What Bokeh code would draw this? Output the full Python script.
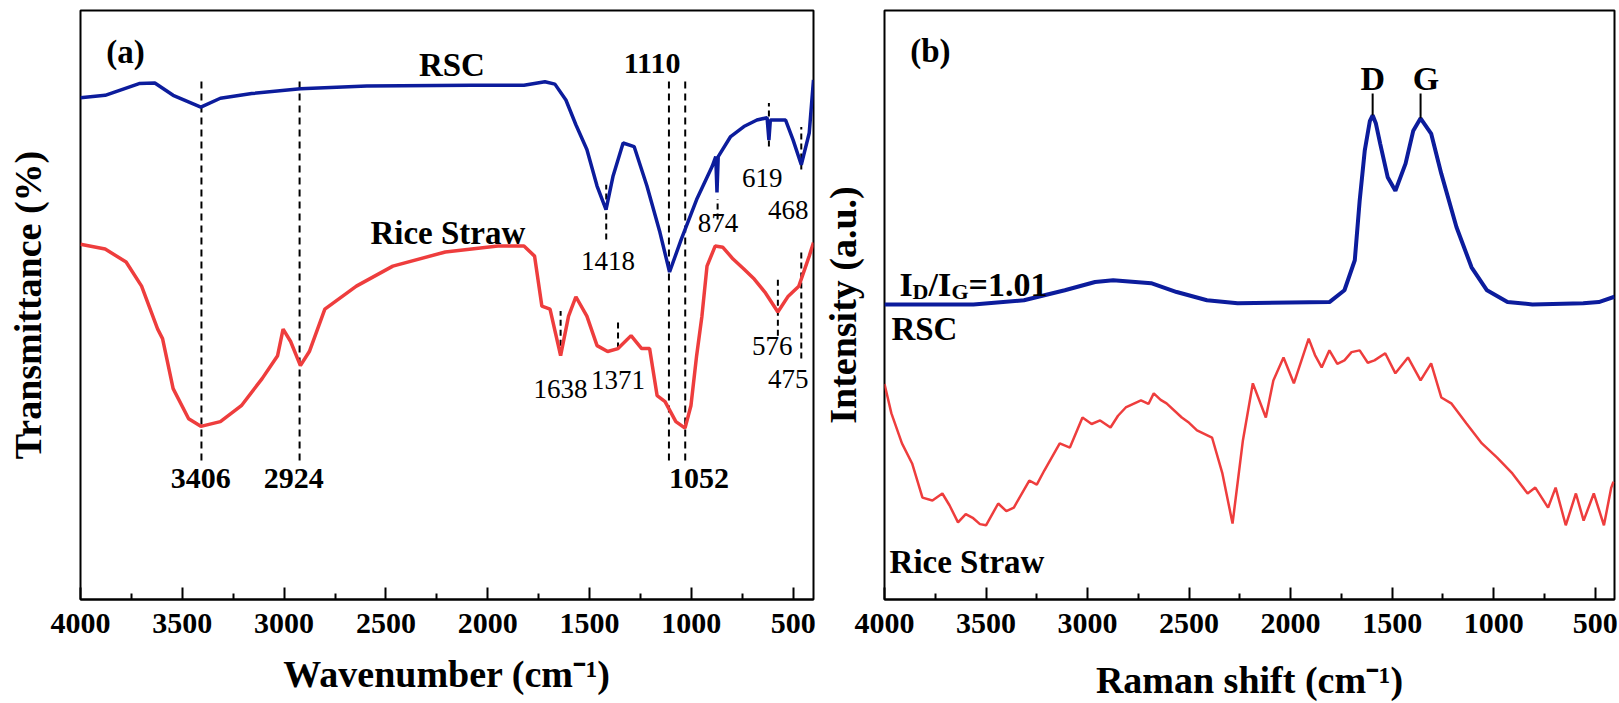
from bokeh.plotting import figure
from bokeh.layouts import row
from bokeh.models import Range1d, FixedTicker, ColumnDataSource
from bokeh.embed import file_html
from bokeh.resources import INLINE
from bokeh.core.properties import value

FONT = "Liberation Serif"
BLUE = "#0c1c9c"
RED = "#ee3d3d"

# ---------------- data: (a) FTIR ----------------
ftir_wn_rsc = [4000, 3879, 3712, 3635, 3545, 3409, 3313, 3159, 2920, 2594, 2079, 1822, 1719, 1670,
               1616, 1567, 1513, 1463, 1419, 1385, 1335, 1281, 1218, 1154, 1107, 1050, 974, 898,
               880, 874, 868, 807, 742, 678, 628, 619, 612, 603, 537, 500, 460, 421, 400]
ftir_t_rsc = [85.2, 85.6, 87.6, 87.7, 85.6, 83.6, 85.1, 85.9, 86.7, 87.2, 87.3, 87.3, 87.9, 87.5,
              84.8, 80.6, 76.4, 70.2, 66.2, 71.8, 77.5, 76.9, 70.2, 62.3, 55.6, 61.1, 67.9, 73.5,
              75.2, 69.1, 75.2, 78.6, 80.3, 81.4, 81.8, 78.0, 81.4, 81.4, 81.4, 78.0, 73.8, 79.2, 88.2]

ftir_wn_rs = [4000, 3879, 3776, 3700, 3621, 3597, 3545, 3469, 3409, 3313, 3210, 3108, 3032, 3005,
              2968, 2920, 2876, 2800, 2645, 2466, 2208, 1950, 1822, 1770, 1734, 1694, 1642, 1603,
              1567, 1513, 1463, 1411, 1360, 1296, 1244, 1205, 1168, 1129, 1076, 1031, 1002, 974,
              948, 923, 883, 845, 795, 742, 691, 639, 575, 524, 472, 421, 400]
ftir_t_rs = [60.3, 59.5, 57.3, 53.2, 45.9, 44.3, 35.8, 30.7, 29.4, 30.2, 32.9, 37.5, 41.4, 45.9,
             43.8, 39.7, 42.1, 49.3, 53.2, 56.6, 59.0, 60.0, 60.0, 58.3, 49.8, 49.3, 41.4, 48.1,
             51.4, 48.1, 43.1, 42.1, 42.6, 44.8, 42.6, 42.6, 34.6, 33.6, 30.2, 29.1, 32.9, 41.4,
             48.1, 56.6, 60.0, 59.8, 57.8, 56.1, 54.4, 52.2, 48.8, 51.5, 53.2, 58.3, 60.6]

# peak marker lines (a)
long_line_x = [3406, 2924, 1110, 1030]
long_line_y0 = [23.6, 23.6, 23.6, 23.6]
long_line_y1 = [88.5, 88.5, 88.5, 88.5]
short_line_x = [1418, 871, 619, 460, 1642, 1360, 575, 460]
short_line_y0 = [61.1, 64.5, 76.9, 73.0, 41.4, 42.6, 44.8, 40.9]
short_line_y1 = [70.4, 68.0, 84.3, 80.2, 49.0, 47.6, 54.9, 59.0]

bold_labels_a = ["3406", "2924", "1052", "1110"]
bold_labels_a_x = [3409, 2953, 962, 1193]
bold_labels_a_y = [20.6, 20.6, 20.6, 91.0]
series_labels_a = ["RSC", "Rice Straw"]
series_labels_a_x = [2176, 2196]
series_labels_a_y = [90.7, 62.3]
peak_labels_a = ["1418", "874", "619", "468", "1638", "1371", "576", "475"]
peak_labels_a_x = [1409, 869, 652, 524, 1642, 1360, 603, 524]
peak_labels_a_y = [57.4, 64.0, 71.6, 66.2, 35.8, 37.2, 43.1, 37.5]

# ---------------- data: (b) Raman ----------------
raman_wn_rsc = [4000, 3562, 3313, 3112, 2963, 2874, 2687, 2561, 2412, 2261, 1809, 1735, 1684, 1660,
                1635, 1610, 1596, 1580, 1559, 1522, 1484, 1434, 1396, 1360, 1308, 1258, 1183, 1109,
                1033, 932, 809, 559, 482, 405]
raman_i_rsc = [50.1, 50.1, 50.8, 52.5, 53.9, 54.2, 53.7, 52.2, 50.8, 50.3, 50.5, 52.5, 57.6, 67.7,
               76.2, 81.2, 82.2, 80.8, 77.4, 71.7, 69.4, 74.0, 79.6, 81.7, 79.1, 72.3, 63.2, 56.4,
               52.5, 50.5, 50.1, 50.3, 50.5, 51.4]

raman_wn_rs = [4000, 3966, 3914, 3864, 3813, 3764, 3715, 3680, 3638, 3600, 3563, 3530, 3500, 3440,
               3400, 3363, 3287, 3250, 3213, 3137, 3087, 3025, 2980, 2938, 2887, 2850, 2812, 2737,
               2700, 2674, 2640, 2611, 2536, 2500, 2461, 2387, 2336, 2286, 2235, 2186, 2122, 2085,
               2035, 1984, 1911, 1880, 1847, 1809, 1770, 1735, 1700, 1660, 1620, 1587, 1534, 1484,
               1422, 1360, 1308, 1258, 1209, 1134, 1058, 983, 908, 833, 795, 732, 695, 645, 595,
               557, 507, 457, 421, 410]
raman_i_rs = [36.6, 31.6, 26.5, 23.1, 17.3, 16.8, 18.0, 16.0, 13.1, 14.5, 13.8, 12.8, 12.6, 16.3,
              15.0, 15.6, 20.2, 19.5, 21.9, 26.5, 25.8, 30.9, 29.8, 30.4, 29.2, 31.2, 32.6, 33.8,
              33.2, 35.0, 33.9, 33.3, 30.9, 30.0, 28.7, 27.5, 21.4, 12.9, 27.0, 36.7, 30.9, 37.2,
              41.1, 36.7, 44.3, 41.5, 39.4, 42.3, 40.0, 40.6, 42.0, 42.3, 40.2, 40.6, 41.8, 38.4,
              41.1, 37.2, 40.1, 34.3, 33.3, 29.9, 26.5, 24.1, 21.4, 18.0, 19.0, 15.6, 19.0, 12.6,
              18.0, 13.4, 18.0, 12.6, 19.0, 20.0]

dg_line_x = [1596, 1360]
dg_line_y0 = [82.2, 81.7]
dg_line_y1 = [85.9, 85.9]
dg_labels = ["D", "G"]
dg_labels_x = [1596, 1333]
dg_labels_y = [88.5, 88.5]

major_ticks = [4000, 3500, 3000, 2500, 2000, 1500, 1000, 500]
minor_ticks = [3750, 3250, 2750, 2250, 1750, 1250, 750]


def make_fig(width, bl, br, bb, x_end, xlabel, ylabel, xstand, ystand):
    p = figure(width=width, height=703, x_range=Range1d(4000, x_end), y_range=Range1d(0, 100),
               output_backend="svg", toolbar_location=None,
               min_border_left=bl, min_border_right=br, min_border_top=10, min_border_bottom=bb,
               background_fill_color="white", border_fill_color="white")
    p.xgrid.visible = False
    p.ygrid.visible = False
    p.outline_line_color = "black"
    p.outline_line_width = 2
    p.outline_line_alpha = 1
    ax = p.xaxis[0]
    ax.ticker = FixedTicker(ticks=major_ticks, minor_ticks=minor_ticks)
    ax.major_tick_in = 12
    ax.major_tick_out = 0
    ax.minor_tick_in = 6
    ax.minor_tick_out = 0
    ax.major_tick_line_width = 2
    ax.minor_tick_line_width = 2
    ax.axis_line_width = 2
    ax.major_label_text_font = FONT
    ax.major_label_text_font_style = "bold"
    ax.major_label_text_font_size = "30px"
    ax.major_label_text_color = "black"
    ax.major_label_standoff = 14
    ax.axis_label = xlabel
    ax.axis_label_text_font = FONT
    ax.axis_label_text_font_style = "bold"
    ax.axis_label_text_font_size = "38px"
    ax.axis_label_text_color = "black"
    ax.axis_label_standoff = xstand

    ay = p.yaxis[0]
    ay.ticker = FixedTicker(ticks=[])
    ay.major_tick_in = 0
    ay.major_tick_out = 0
    ay.minor_tick_in = 0
    ay.minor_tick_out = 0
    ay.major_label_standoff = 0
    ay.axis_line_color = None
    ay.axis_label = ylabel
    ay.axis_label_text_font = FONT
    ay.axis_label_text_font_style = "bold"
    ay.axis_label_text_font_size = "38px"
    ay.axis_label_text_color = "black"
    ay.axis_label_standoff = ystand
    return p


def txt(p, xs, ys, texts, size, bold=True, align="center"):
    p.text(x=xs, y=ys, text=texts, text_font=value(FONT),
           text_font_style="bold" if bold else "normal", text_font_size=size,
           text_align=align, text_baseline="middle", text_color="black")


# ---------------- panel (a) ----------------
p1 = make_fig(818, 80, 5, 101, 400, "Wavenumber (cm⁻¹)", "Transmittance (%)", 17, 32)
p1.segment(x0=long_line_x, y0=long_line_y0, x1=long_line_x, y1=long_line_y1,
           line_color="black", line_width=2, line_dash="7 5")
p1.segment(x0=short_line_x, y0=short_line_y0, x1=short_line_x, y1=short_line_y1,
           line_color="black", line_width=2, line_dash="6 4")
p1.line(ftir_wn_rsc, ftir_t_rsc, line_color=BLUE, line_width=3.5)
p1.line(ftir_wn_rs, ftir_t_rs, line_color=RED, line_width=3.5)
txt(p1, bold_labels_a_x, bold_labels_a_y, bold_labels_a, "30px")
txt(p1, series_labels_a_x, series_labels_a_y, series_labels_a, "33px")
txt(p1, peak_labels_a_x, peak_labels_a_y, peak_labels_a, "27px", bold=False)
txt(p1, [3779], [92.9], ["(a)"], "33px")

# ---------------- panel (b) ----------------
p2 = make_fig(801, 66, 5, 104, 405, "Raman shift (cm⁻¹)", "Intensity (a.u.)", 23, 21)
p2.line(raman_wn_rsc, raman_i_rsc, line_color=BLUE, line_width=4)
p2.line(raman_wn_rs, raman_i_rs, line_color=RED, line_width=2.5)
p2.segment(x0=dg_line_x, y0=dg_line_y0, x1=dg_line_x, y1=dg_line_y1,
           line_color="black", line_width=2)
txt(p2, dg_labels_x, dg_labels_y, dg_labels, "34px")
txt(p2, [3774], [93.2], ["(b)"], "33px")
txt(p2, [3966, 3975], [46.0, 6.3], ["RSC", "Rice Straw"], "33px", align="left")

ratio_src = ColumnDataSource(dict(
    x=[3926] * 5,
    y=[53.5, 52.3, 53.5, 52.3, 53.5],
    t=["I", "D", "/I", "G", "=1.01"],
    xo=[0, 13, 29, 52, 69],
    fs=["34px", "22px", "34px", "22px", "34px"],
))
p2.text(x="x", y="y", text="t", x_offset="xo", text_font_size="fs", source=ratio_src,
        text_font=value(FONT), text_font_style="bold", text_align="left",
        text_baseline="alphabetic", text_color="black")

layout = row(p1, p2)
open("out.html", "w").write(file_html(layout, INLINE))
